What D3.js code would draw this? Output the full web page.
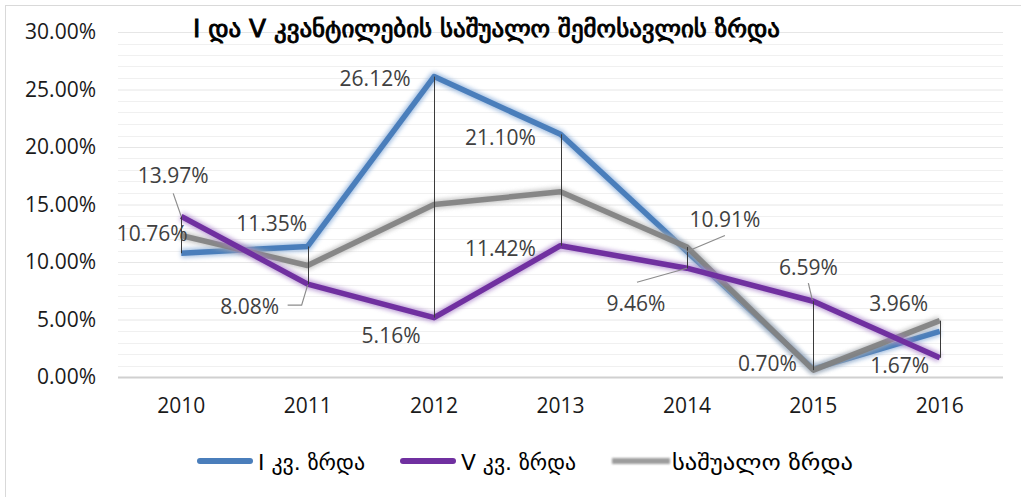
<!DOCTYPE html>
<html>
<head>
<meta charset="utf-8">
<script src="https://cdn.jsdelivr.net/npm/d3@7"></script>
<style>
html,body{margin:0;padding:0;background:#fff;}
svg{display:block;}
</style>
</head>
<body>
<svg id="chart" width="1021" height="497"></svg>
<script>
// ---- data ----
const years = ["2010","2011","2012","2013","2014","2015","2016"];
const q1Growth = [0.1076, 0.1135, 0.2612, 0.2110, 0.1091, 0.0070, 0.0396];
const q5Growth = [0.1397, 0.0808, 0.0516, 0.1142, 0.0946, 0.0659, 0.0167];
const avgGrowth = [0.123, 0.097, 0.150, 0.161, 0.113, 0.006, 0.049];
const seriesNames = ["I კვ. ზრდა", "V კვ. ზრდა", "საშუალო ზრდა"];
const yTicks = [0, 0.05, 0.10, 0.15, 0.20, 0.25, 0.30];
const titleText = "I და V კვანტილების საშუალო შემოსავლის ზრდა";

// label offsets (layout only)
const q1LabelOff = [[-29,-20],[-36,-23],[-59,1],[-60,3],[38,-33],[-46,-6],[-41,-28]];
const q5LabelOff = [[-8,-41],[-58,22],[-43,17],[-60,2],[-51,35],[-5,-34],[-40,7]];

const svg = d3.select("#chart");
const W = 1021, H = 497;
const plot = {left:118, right:1003, top:32, bottom:377};

const x = d3.scaleBand().domain(years).range([plot.left, plot.right]);
const xc = d => x(d) + x.bandwidth()/2;
const y = d3.scaleLinear().domain([0, 0.30]).range([plot.bottom, plot.top]);

const defs = svg.append("defs");
const f = defs.append("filter").attr("id","glow").attr("filterUnits","userSpaceOnUse")
  .attr("x",0).attr("y",0).attr("width",W).attr("height",H);
f.append("feGaussianBlur").attr("stdDeviation", 2.2);
const f2 = defs.append("filter").attr("id","soft").attr("filterUnits","userSpaceOnUse")
  .attr("x",0).attr("y",0).attr("width",W).attr("height",H);
f2.append("feGaussianBlur").attr("stdDeviation", 0.8);

// chart border
svg.append("rect").attr("x",5.5).attr("y",5.5).attr("width",W+20).attr("height",H+20)
  .attr("fill","none").attr("stroke","#d9d9d9").attr("stroke-width",1);

// minor gridlines every 1%
const minor = d3.range(1, 30).filter(v => v % 5 !== 0).map(v => v/100);
svg.append("g").selectAll("line").data(minor).join("line")
  .attr("x1", plot.left).attr("x2", plot.right)
  .attr("y1", d => Math.round(y(d))+0.5).attr("y2", d => Math.round(y(d))+0.5)
  .attr("stroke","#f0f0f0").attr("stroke-width",1);

// y axis with major gridlines
const yAxis = d3.axisLeft(y).tickValues(yTicks).tickFormat(d3.format(".2%"))
  .tickSize(-(plot.right-plot.left)).tickPadding(22);
const gy = svg.append("g").attr("transform",`translate(${plot.left},0)`).call(yAxis);
gy.select(".domain").remove();
gy.selectAll(".tick line").attr("stroke","#e6e6e6");
gy.selectAll(".tick").filter(d => d === 0).select("line").attr("stroke","#d0d0d0").attr("stroke-width",2);
gy.selectAll("text").attr("font-family","'Open Sans', sans-serif").attr("font-size","21px").attr("fill","#1a1a1a");

// x axis
const xAxis = d3.axisBottom(x).tickSize(0).tickPadding(21);
const gx = svg.append("g").attr("transform",`translate(0,${plot.bottom})`).call(xAxis);
gx.select(".domain").remove();
gx.selectAll("text").attr("font-family","'Open Sans', sans-serif").attr("font-size","21px").attr("fill","#1a1a1a");

// series
const series = [
  {name: seriesNames[0], values: q1Growth, color:"#4a7ebb", glow:"#7fa6d6"},
  {name: seriesNames[2], values: avgGrowth, color:"#7f7f7f", glow:"#b0b0b0"},
  {name: seriesNames[1], values: q5Growth, color:"#7030a0", glow:"#a57dc8"}
];
const line = d3.line().x((d,i) => xc(years[i])).y(d => y(d));

// high-low lines
const hl = years.map((yr,i) => {
  const vals = [q1Growth[i], q5Growth[i], avgGrowth[i]];
  return {yr, hi: d3.max(vals), lo: d3.min(vals)};
});

series.forEach(s => {
  svg.append("path").datum(s.values).attr("d", line)
    .attr("fill","none").attr("stroke", s.glow).attr("stroke-width", 9)
    .attr("stroke-linejoin","round").attr("opacity",0.7).attr("filter","url(#glow)");
  svg.append("path").datum(s.values).attr("d", line)
    .attr("fill","none").attr("stroke", s.color).attr("stroke-width", 5.5)
    .attr("stroke-linejoin","round").attr("opacity", s.color==="#7f7f7f" ? 0.9 : 1);
});

svg.append("g").selectAll("line").data(hl).join("line")
  .attr("x1", d => Math.round(xc(d.yr))+0.5).attr("x2", d => Math.round(xc(d.yr))+0.5)
  .attr("y1", d => y(d.hi)).attr("y2", d => y(d.lo))
  .attr("stroke","#3a3a3a").attr("stroke-width",1);

// leader lines
const leaders = [
  {yr:"2010", v:q5Growth[0], pts:[[-8,-23],[0,0]]},
  {yr:"2011", v:q5Growth[1], pts:[[-20,21],[-6,21],[0,1]]},
  {yr:"2014", v:q1Growth[4], pts:[[0,0],[38,-16]]},
  {yr:"2014", v:q5Growth[4], pts:[[-50,14],[0,0]]},
  {yr:"2015", v:q5Growth[5], pts:[[-5,-18],[-1,-1]]}
];
svg.append("g").selectAll("path").data(leaders).join("path")
  .attr("d", d => d3.line()(d.pts.map(p => [xc(d.yr)+p[0], y(d.v)+p[1]])))
  .attr("fill","none").attr("stroke","#8c8c8c").attr("stroke-width",1.2);

// data labels
const fmt = d3.format(".2%");
function labels(vals, offs){
  svg.append("g").selectAll("text").data(vals).join("text")
    .attr("x", (d,i) => xc(years[i]) + offs[i][0])
    .attr("y", (d,i) => y(d) + offs[i][1])
    .attr("text-anchor","middle").attr("dominant-baseline","central")
    .attr("font-family","'Open Sans', sans-serif").attr("font-size","21px").attr("fill","#404040")
    .text(d => fmt(d));
}
labels(q1Growth, q1LabelOff);
labels(q5Growth, q5LabelOff);

// title
svg.append("text").attr("x", 193).attr("y", 37)
  .attr("font-family","'DejaVu Sans', sans-serif").attr("font-size","24px")
  .attr("fill","#000").attr("stroke","#000").attr("stroke-width",0.9)
  .attr("textLength", 587).attr("lengthAdjust","spacingAndGlyphs")
  .text(titleText);

// legend
const legendItems = [
  {name: seriesNames[0], color:"#4a7ebb", op:1, x0:197, w:107},
  {name: seriesNames[1], color:"#7030a0", op:1, x0:400, w:115},
  {name: seriesNames[2], color:"#8c8c8c", op:0.85, x0:612, w:181}
];
const lg = svg.append("g");
legendItems.forEach((it, i) => {
  if (i < 2) {
    lg.append("line").attr("x1", it.x0 + 3).attr("x2", it.x0 + 53).attr("y1", 461).attr("y2", 461)
      .attr("stroke", it.color).attr("stroke-width", 6).attr("stroke-linecap", "round");
  } else {
    lg.append("rect").attr("x", it.x0).attr("y", 458).attr("width", 58).attr("height", 6)
      .attr("fill", it.color).attr("opacity", it.op).attr("filter", "url(#soft)");
  }
  lg.append("text").attr("x", it.x0 + (i===2 ? 60 : 61)).attr("y", 470)
    .attr("font-family","'DejaVu Sans', sans-serif").attr("font-size","22px").attr("fill","#000")
    .attr("textLength", it.w).attr("lengthAdjust","spacingAndGlyphs")
    .text(it.name);
});
</script>
</body>
</html>
